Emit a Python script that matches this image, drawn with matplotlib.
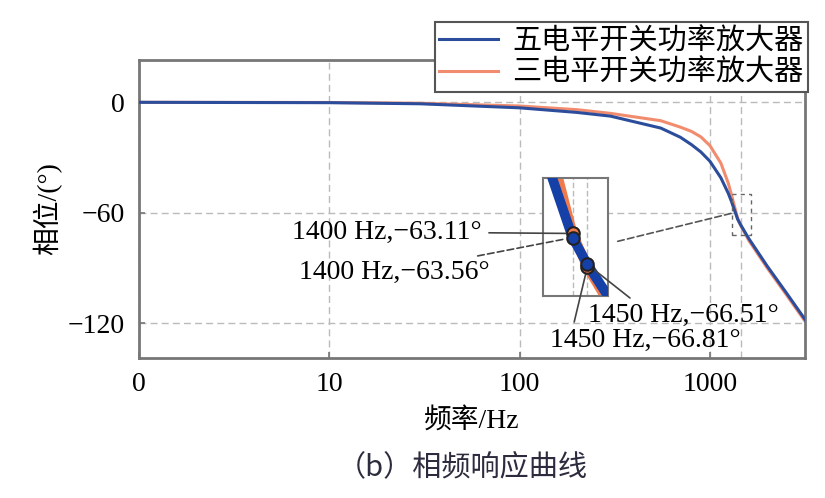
import matplotlib
matplotlib.use("Agg")
import matplotlib.pyplot as plt
from matplotlib.patches import Rectangle

plt.rcParams['font.family'] = ['Liberation Serif', 'Noto Sans CJK SC']

# 频率 (Hz) 与相位 (°)
freq = [1, 10, 30, 100, 200, 300, 552, 700, 800, 897, 1000, 1142, 1250, 1300, 1400, 1450, 1600, 2000, 2500, 3162]
phase_five = [0, -0.2, -0.8, -3, -5.5, -7.5, -14, -19, -23, -27, -32, -41, -49.5, -54, -63.56, -66.51, -74, -89, -103, -118]
phase_three = [0, -0.1, -0.5, -2, -4, -6, -10, -13.5, -15.8, -18.8, -23.5, -33, -44, -50.5, -63.11, -66.81, -75, -90, -104, -119]

labels = ["五电平开关功率放大器", "三电平开关功率放大器"]
xticks = [1, 10, 100, 1000]
xticklabels = ["0", "10", "100", "1000"]
yticks = [0, -60, -120]
yticklabels = ["0", "\u221260", "\u2212120"]

mark_freq = [1400, 1450]
mark_five = [-63.56, -66.51]
mark_three = [-63.11, -66.81]

blue = '#2b4d9b'
orange = '#f28c6e'
gray = '#777777'

fig = plt.figure(figsize=(8.25, 4.98), dpi=100)
ax = fig.add_axes([139/825, 1-358/498, 666/825, 298/498])

ax.plot(freq, phase_five, color=blue, lw=2.2, label=labels[0], zorder=3)
ax.plot(freq, phase_three, color=orange, lw=2.2, label=labels[1], zorder=2)
ax.set_xscale('log')
ax.set_xlim(1, 10**3.5)
ax.set_ylim(-139, 23)
ax.set_xticks(xticks)
ax.set_xticklabels(xticklabels)
ax.minorticks_off()
ax.set_yticks(yticks)
ax.set_yticklabels(yticklabels)
ax.tick_params(direction='in', labelsize=20, length=4, width=1.2, color=gray, pad=10)
ax.grid(True, ls=(0, (5, 3)), color='#bbbbbb', lw=1)
ax.axvline(1450, ls=(0, (5, 3)), color='#bbbbbb', lw=1)
for s in ax.spines.values():
    s.set_color(gray)
    s.set_linewidth(2)

ax.set_xlabel("频率/Hz", fontsize=20, labelpad=8)
ax.set_ylabel("相位/(°)", fontsize=20, labelpad=4)

# 放大区域
ax.add_patch(Rectangle((1300, -72), 350, 22, fill=False, ls=(0, (3, 3)), ec='#666666', lw=1, zorder=4))
ax.annotate('', xy=(1340, -60), xycoords='data', xytext=(615/825, 1-242/498),
            textcoords='figure fraction',
            arrowprops=dict(arrowstyle='-', color='#555555', lw=1.2, ls=(0, (4, 2))))

leg = ax.legend(loc='upper right', bbox_to_anchor=(808/825, 1-22/498), bbox_transform=fig.transFigure,
                prop={'family': ['Noto Sans CJK SC'], 'size': 21}, frameon=True, fancybox=False,
                borderaxespad=0, handlelength=2.0, handletextpad=0.5, labelspacing=0.05,
                borderpad=0.15)
leg.get_frame().set_edgecolor('#555555')
leg.get_frame().set_linewidth(1.5)
leg.get_frame().set_alpha(1)
leg.set_zorder(10)

# 局部放大图
axin = fig.add_axes([543/825, 1-296/498, 65/825, 118/498])
axin.plot(freq, phase_three, color='#f07a4a', lw=7, zorder=2)
axin.plot(freq, phase_five, color='#1540a8', lw=7, zorder=3)
axin.plot(mark_freq, mark_three, 'o', ms=9, mfc='#f07a4a', mec='#222222', mew=1.5, zorder=5)
axin.plot(mark_freq, mark_five, 'o', ms=9, mfc='#1540a8', mec='#222222', mew=1.5, zorder=6)
axin.set_xlim(1300, 1520)
axin.set_ylim(-70, -57)
axin.set_xticks(mark_freq)
axin.set_yticks([])
axin.tick_params(length=0, labelbottom=False, labelleft=False)
axin.grid(True, axis='x', ls=(0, (4, 2)), color='#bbbbbb', lw=1)
for s in axin.spines.values():
    s.set_color(gray)
    s.set_linewidth(1.5)

fs = 20
axin.annotate("1400 Hz,\u221263.11°", xy=(mark_freq[0], mark_three[0]), xytext=(482/825, 1-232/498),
              textcoords='figure fraction', ha='right', va='center', fontsize=fs,
              annotation_clip=False,
              arrowprops=dict(arrowstyle='-', color='#444444', lw=1.2, shrinkA=3, shrinkB=5))
axin.annotate("1400 Hz,\u221263.56°", xy=(mark_freq[0], mark_five[0]), xytext=(490/825, 1-272/498),
              textcoords='figure fraction', ha='right', va='center', fontsize=fs,
              annotation_clip=False,
              arrowprops=dict(arrowstyle='-', color='#444444', lw=1.2, ls=(0, (4, 2)), shrinkA=3, shrinkB=5))
axin.annotate("1450 Hz,\u221266.51°", xy=(mark_freq[1], mark_five[1]), xytext=(588/825, 1-315/498),
              textcoords='figure fraction', ha='left', va='center', fontsize=fs,
              annotation_clip=False,
              arrowprops=dict(arrowstyle='-', color='#444444', lw=1.2, shrinkA=2, shrinkB=5, relpos=(0.25, 1)))
axin.annotate("1450 Hz,\u221266.81°", xy=(mark_freq[1], mark_three[1]), xytext=(550/825, 1-340/498),
              textcoords='figure fraction', ha='left', va='center', fontsize=fs,
              annotation_clip=False,
              arrowprops=dict(arrowstyle='-', color='#444444', lw=1.2, shrinkA=2, shrinkB=5, relpos=(0.12, 1)))

fig.text(462/825, 1-467/498, "（b）相频响应曲线", ha='center', va='center', fontsize=21,
         family=['Noto Sans CJK SC'], color='#2c2c3e', fontweight='medium')

fig.savefig("out.png", dpi=100)
